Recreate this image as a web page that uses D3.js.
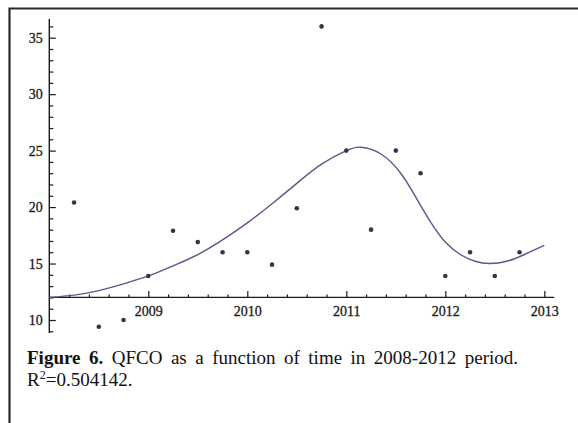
<!DOCTYPE html>
<html>
<head>
<meta charset="utf-8">
<script src="https://cdn.jsdelivr.net/npm/d3@7"></script>
<style>
  body { margin: 0; background: #fff; }
  #wrap { position: relative; width: 578px; height: 423px; overflow: hidden; }
  svg { display: block; position: absolute; left: 0; top: 0; }
  .caption {
    position: absolute; left: 27px; width: 491px;
    font-family: "Liberation Serif", "Times New Roman", serif;
    font-size: 19px; line-height: 22px; color: #111;
  }
  .caption .l1 { text-align: justify; text-align-last: justify; white-space: normal; }
  .caption .sup { font-size: 12px; vertical-align: 7px; line-height: 0; }
</style>
</head>
<body>
<div id="wrap">
<svg id="chart" width="578" height="423"></svg>
<div class="caption" style="top:347px">
  <div class="l1"><b>Figure 6.</b> QFCO as a function of time in 2008-2012 period.</div>
  <div>R<span class="sup">2</span>=0.504142.</div>
</div>
</div>
<script>
// Quarterly QFCO observations
const quarters = [2008.25, 2008.5, 2008.75, 2009.0, 2009.25, 2009.5, 2009.75, 2010.0,
                  2010.25, 2010.5, 2010.75, 2011.0, 2011.25, 2011.5, 2011.75, 2012.0,
                  2012.25, 2012.5, 2012.75];
const qfco = [20.4, 9.4, 10.0, 13.9, 17.9, 16.9, 16.0, 16.0,
              14.9, 19.9, 36.0, 25.0, 18.0, 25.0, 23.0, 13.9,
              16.0, 13.9, 16.0];

// Fitted curve, sampled along the time axis
const fitYears = [2008.0, 2008.25, 2008.5, 2008.75, 2009.0, 2009.25, 2009.5, 2009.75,
                  2010.0, 2010.25, 2010.5, 2010.75, 2011.0, 2011.15, 2011.35, 2011.55,
                  2011.7, 2011.85, 2012.0, 2012.15, 2012.3, 2012.45, 2012.62, 2012.8, 2013.0];
const fitValues = [12.0, 12.2, 12.6, 13.2, 13.9, 14.8, 15.8, 17.1,
                   18.6, 20.3, 22.1, 23.8, 25.0, 25.3, 24.7, 23.0,
                   20.9, 18.7, 16.9, 15.8, 15.2, 15.0, 15.2, 15.8, 16.6];

const xMajorTicks = [2009, 2010, 2011, 2012, 2013];
const yMajorTicks = [10, 15, 20, 25, 30, 35];

const svg = d3.select("#chart");

// page frame
svg.append("path")
  .attr("d", "M9.5,430 L9.5,8.5 L590,8.5")
  .attr("fill", "none")
  .attr("stroke", "#2a2a2a")
  .attr("stroke-width", 2.2);

const x = d3.scaleLinear().domain([2008, 2013]).range([49.3, 544.3]);
const y = d3.scaleLinear().domain([10, 35]).range([320, 37.7]);

const axisColor = "#1a1a1a";
const crossY = y(12);   // time axis sits at QFCO = 12
const labelFont = '"Liberation Serif", "Times New Roman", serif';

// ----- time axis -----
const xMinor = d3.range(2008.2, 2013.01, 0.2).filter(v => Math.abs(v - Math.round(v)) > 0.01);
const gx = svg.append("g").attr("transform", `translate(0,${crossY})`);
gx.call(d3.axisBottom(x).tickValues(xMinor).tickSize(-3).tickFormat(""));
gx.call(g => g.select(".domain").remove());
const gx2 = svg.append("g").attr("transform", `translate(0,${crossY})`);
gx2.call(d3.axisBottom(x).tickValues(xMajorTicks).tickSize(-6.5).tickPadding(8.5).tickFormat(d3.format("d")));
gx2.call(g => g.select(".domain").remove());
svg.append("line")
  .attr("x1", x(2008)).attr("x2", x(2013.1))
  .attr("y1", crossY).attr("y2", crossY)
  .attr("stroke", axisColor).attr("stroke-width", 1.4);

// ----- QFCO axis -----
const yMinor = d3.range(9, 37, 1).filter(v => v % 5 !== 0);
const gy = svg.append("g").attr("transform", `translate(${x(2008)},0)`);
gy.call(d3.axisLeft(y).tickValues(yMinor).tickSize(-4).tickFormat(""));
gy.call(g => g.select(".domain").remove());
const gy2 = svg.append("g").attr("transform", `translate(${x(2008)},0)`);
gy2.call(d3.axisLeft(y).tickValues(yMajorTicks).tickSize(-6.5).tickPadding(6.5).tickFormat(d3.format("d")));
gy2.call(g => g.select(".domain").remove());
svg.append("line")
  .attr("x1", x(2008)).attr("x2", x(2008))
  .attr("y1", y(8.85)).attr("y2", y(36.65))
  .attr("stroke", axisColor).attr("stroke-width", 1.4);

svg.selectAll(".tick line").attr("stroke", axisColor).attr("stroke-width", 1.2);
svg.selectAll(".tick text")
  .attr("fill", "#1a1a1a")
  .attr("stroke", "#1a1a1a")
  .attr("stroke-width", 0.3)
  .style("font-family", labelFont)
  .style("font-size", "14px");

// ----- fitted curve -----
const fit = fitYears.map((t, i) => [t, fitValues[i]]);
svg.append("path")
  .datum(fit)
  .attr("fill", "none")
  .attr("stroke", "#58588a")
  .attr("stroke-width", 1.4)
  .attr("d", d3.line().x(d => x(d[0])).y(d => y(d[1])).curve(d3.curveNatural));

// ----- observations -----
svg.append("g").selectAll("circle")
  .data(quarters.map((t, i) => [t, qfco[i]]))
  .join("circle")
  .attr("cx", d => x(d[0]))
  .attr("cy", d => y(d[1]))
  .attr("r", 2.3)
  .attr("fill", "#34344e");
</script>
</body>
</html>
